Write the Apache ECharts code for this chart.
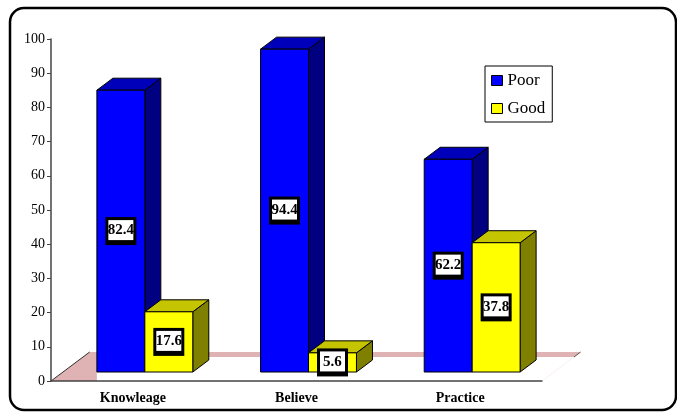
<!DOCTYPE html>
<html lang="en">
<head>
    <meta charset="UTF-8">
    <title>Poor / Good 3D bars</title>
    <script src="https://cdn.jsdelivr.net/npm/echarts@6/dist/echarts.min.js"></script>
    <style>
        html, body {
            margin: 0;
            padding: 0;
            background: #fff;
        }

        #main {
            width: 677px;
            height: 412px;
        }
    </style>
</head>
<body>
<div id="main"></div>
<script type="text/javascript">
    // data
    var categories = ['Knowleage', 'Believe', 'Practice'];
    var poor = [82.4, 94.4, 62.2];
    var good = [17.6, 5.6, 37.8];
    var yMin = 0, yMax = 100, yStep = 10;

    var SERIF = '"Liberation Serif", "Times New Roman", serif';
    var SLOPE = 4 / 3;     // dx per dy of the depth direction
    var FRONT = 9;         // bar front face sits this far up the floor
    var DEPTH = 12;        // bar depth (vertical part)
    var FLOOR = 29;        // floor depth
    var BAND = 24;         // where the white part of the floor starts

    var faces = [
        {front: '#0000ff', top: '#0000bb', side: '#000080'},
        {front: '#ffff00', top: '#c4c400', side: '#808000'}
    ];

    // geometry of one bar, from the axis scales
    function barBox(api, idx, s, value) {
        var base = api.coord([idx, 0]);
        var top = api.coord([idx, value]);
        var band = api.size([1, 0])[0];
        var w = band * 0.293;
        var cx = base[0] + FRONT * SLOPE;
        var xL = cx - w + s * w;
        return {xL: xL, xR: xL + w, yB: base[1] - FRONT, yT: top[1] - FRONT};
    }

    function barRenderer(s, values) {
        return function (params, api) {
            var idx = api.value(0);
            var v = api.value(1);
            var b = barBox(api, idx, s, v);
            var dx = DEPTH * SLOPE, dy = DEPTH;
            var c = faces[s];
            var line = {stroke: '#000', lineWidth: 1};
            var cx = (b.xL + b.xR) / 2, cy = (b.yT + b.yB) / 2;
            return {
                type: 'group',
                children: [
                    {type: 'polygon', shape: {points: [[b.xR, b.yT], [b.xR + dx, b.yT - dy], [b.xR + dx, b.yB - dy], [b.xR, b.yB]]},
                        style: Object.assign({fill: c.side}, line)},
                    {type: 'polygon', shape: {points: [[b.xL, b.yT], [b.xR, b.yT], [b.xR + dx, b.yT - dy], [b.xL + dx, b.yT - dy]]},
                        style: Object.assign({fill: c.top}, line)},
                    {type: 'rect', shape: {x: b.xL, y: b.yT, width: b.xR - b.xL, height: b.yB - b.yT},
                        style: Object.assign({fill: c.front}, line)},
                    // label box: black frame, heavier at the bottom
                    {type: 'rect', shape: {x: cx - 15.5, y: cy - 14, width: 31, height: 28},
                        style: {fill: '#000'}, z2: 10},
                    {type: 'rect', shape: {x: cx - 12.5, y: cy - 11, width: 25, height: 20},
                        style: {fill: '#fff'}, z2: 11},
                    {type: 'text', x: cx, y: cy - 0.5, z2: 12,
                        style: {text: String(values[idx]), fill: '#000', align: 'center', verticalAlign: 'middle',
                            font: 'bold 15px ' + SERIF}}
                ]
            };
        };
    }

    function floorRenderer(params, api) {
        var cs = params.coordSys;
        var y0 = cs.y + cs.height;
        var xl = cs.x, xr = cs.x + cs.width;
        var first = barBox(api, 0, 0, 0).xL;
        return {
            type: 'group',
            children: [
                {type: 'polygon', shape: {points: [[xl, y0], [xl + FLOOR * SLOPE, y0 - FLOOR], [xr + FLOOR * SLOPE, y0 - FLOOR], [xr, y0]]},
                    style: {fill: '#dfb3b3'}},
                {type: 'polygon', shape: {points: [[first, y0 - BAND], [xr + BAND * SLOPE, y0 - BAND], [xr, y0], [first, y0]]},
                    style: {fill: '#fff'}},
                {type: 'line', shape: {x1: xl, y1: y0, x2: xl + FLOOR * SLOPE, y2: y0 - FLOOR},
                    style: {stroke: '#000', lineWidth: 0.8}},
                {type: 'line', shape: {x1: xr + BAND * SLOPE, y1: y0 - BAND, x2: xr + FLOOR * SLOPE, y2: y0 - FLOOR},
                    style: {stroke: '#333', lineWidth: 0.8}}
            ]
        };
    }

    var myChart = echarts.init(document.getElementById('main'));

    var option = {
        animation: false,
        color: ['#0000ff', '#ffff00'],
        grid: {left: 51, right: 135, top: 39, bottom: 31},
        legend: {
            data: ['Poor', 'Good'],
            orient: 'vertical',
            left: 485,
            top: 66,
            padding: [6, 7, 5, 6],
            itemGap: 11,
            itemWidth: 11,
            itemHeight: 10,
            icon: 'rect',
            backgroundColor: '#fff',
            borderColor: '#000',
            borderWidth: 1,
            borderRadius: 0,
            itemStyle: {borderColor: '#000', borderWidth: 1},
            textStyle: {fontFamily: SERIF, fontSize: 17, color: '#000', lineHeight: 17, padding: [0, 0, 0, 0]}
        },
        xAxis: {
            type: 'category',
            data: categories,
            z: 10,
            axisLine: {lineStyle: {color: '#444', width: 1.5}},
            axisTick: {length: 4, lineStyle: {color: '#444'}},
            axisLabel: {fontFamily: SERIF, fontSize: 14, fontWeight: 'bold', color: '#000', margin: 10}
        },
        yAxis: {
            type: 'value',
            min: yMin,
            max: yMax,
            interval: yStep,
            z: 10,
            splitLine: {show: false},
            axisLine: {show: true, lineStyle: {color: '#444', width: 1.5}},
            axisTick: {show: true, length: 4, lineStyle: {color: '#444'}},
            axisLabel: {fontFamily: SERIF, fontSize: 14, color: '#000', margin: 6}
        },
        graphic: [{
            type: 'rect',
            shape: {x: 10, y: 8, width: 666, height: 402, r: 14},
            style: {fill: 'none', stroke: '#000', lineWidth: 2.5},
            z: 100
        }],
        series: [
            {
                name: 'floor', type: 'custom', z: 1, silent: true,
                renderItem: floorRenderer,
                data: [[0, 0]]
            },
            {
                name: 'Poor', type: 'custom', z: 3,
                itemStyle: {color: '#0000ff'},
                renderItem: barRenderer(0, poor),
                data: poor.map(function (v, i) { return [i, v]; })
            },
            {
                name: 'Good', type: 'custom', z: 4,
                itemStyle: {color: '#ffff00'},
                renderItem: barRenderer(1, good),
                data: good.map(function (v, i) { return [i, v]; })
            }
        ]
    };

    myChart.setOption(option);
</script>
</body>
</html>
